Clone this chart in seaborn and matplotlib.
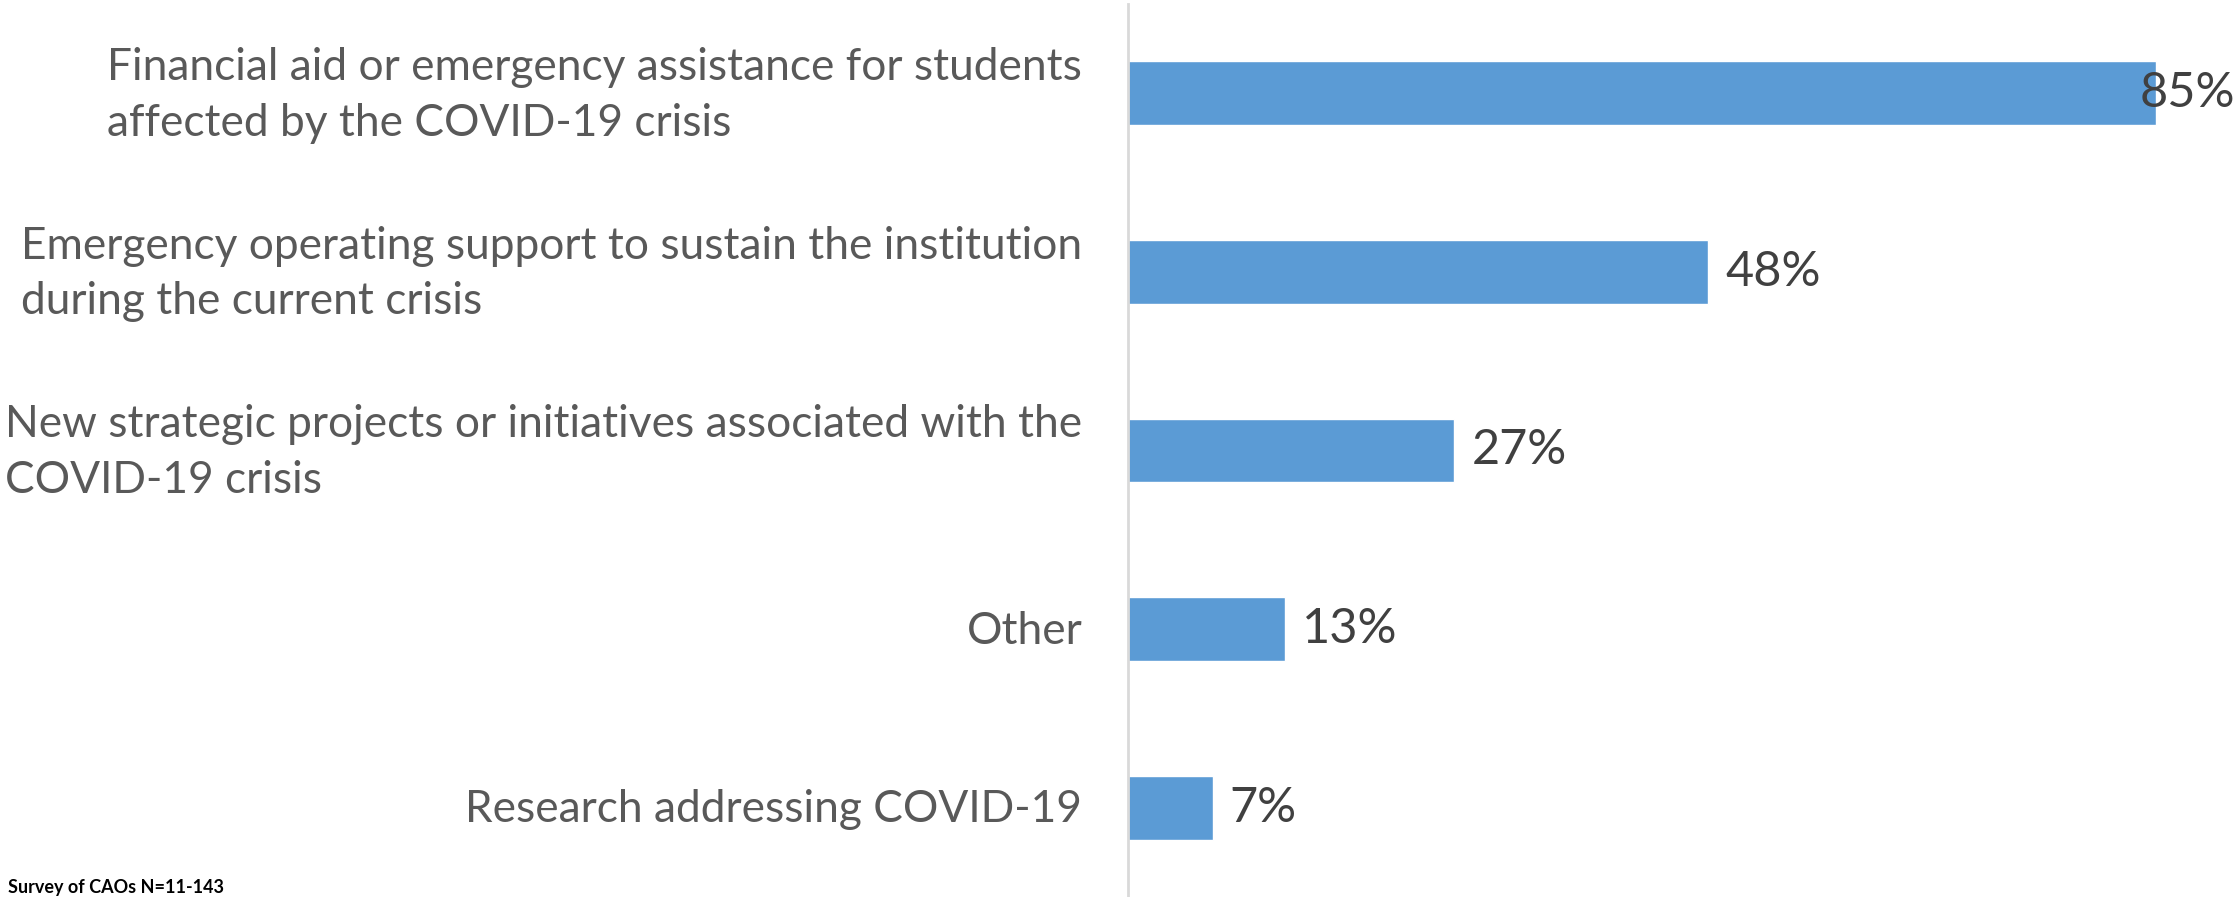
import matplotlib
matplotlib.use("Agg")
import matplotlib.pyplot as plt
import matplotlib.transforms as mtransforms
import seaborn as sns
import pandas as pd

# Survey responses: share of CAOs naming each use of relief funds
categories = [
    "Financial aid or emergency assistance for students\naffected by the COVID-19 crisis",
    "Emergency operating support to sustain the institution\nduring the current crisis",
    "New strategic projects or initiatives associated with the\nCOVID-19 crisis",
    "Other",
    "Research addressing COVID-19",
]
values = [85, 48, 27, 13, 7]
footnote = "Survey of CAOs N=11-143"

BAR_COLOR = "#5B9BD5"
CAT_COLOR = "#595959"
VAL_COLOR = "#404040"
AXIS_COLOR = "#D9D9D9"

sns.set_theme(style="white")
plt.rcParams["font.family"] = ["Lato", "DejaVu Sans"]

W, H, DPI = 2239, 897, 100
fig = plt.figure(figsize=(W / DPI, H / DPI), dpi=DPI)
ax = fig.add_axes([1128 / W, 0, 1 - 1128 / W, 1 - 4 / H])

df = pd.DataFrame({"category": categories, "value": values})
sns.barplot(data=df, y="category", x="value", orient="h", color=BAR_COLOR,
            saturation=1, width=0.358, ax=ax)

ax.set_xlim(0, 91.9)
ax.set_ylim(4.5, -0.5)
ax.set_xlabel("")
ax.set_ylabel("")
ax.set_xticks([])
ax.tick_params(axis="y", length=0)
ax.set_yticklabels([])

for side in ("top", "right", "bottom"):
    ax.spines[side].set_visible(False)
ax.spines["left"].set_color(AXIS_COLOR)
ax.spines["left"].set_linewidth(2)

# category labels: right-aligned block, left-aligned lines, left of the axis
ytrans = mtransforms.blended_transform_factory(ax.transAxes, ax.transData)
for i, cat in enumerate(categories):
    ax.annotate(cat, xy=(0, i), xycoords=ytrans,
                xytext=(-33, -1.5), textcoords="offset points",
                ha="right", va="center", multialignment="left",
                linespacing=1.45, fontsize=31.9, color=CAT_COLOR,
                annotation_clip=False)

# value labels to the right of each bar
texts = []
for i, v in enumerate(values):
    t = ax.text(v + 1.4, i, f"{v}%", va="center", ha="left",
                fontsize=35, color=VAL_COLOR)
    texts.append(t)

# keep labels inside the figure: pull any overflowing one back to the edge
fig.canvas.draw()
renderer = fig.canvas.get_renderer()
for t in texts:
    bb = t.get_window_extent(renderer)
    if bb.x1 > W - 4:
        t.set_ha("right")
        t.set_x(ax.get_xlim()[1] - 0.3)

fig.text(8 / W, 1 / H, footnote, ha="left", va="bottom",
         fontsize=13, fontweight="bold", color="#000000")

fig.savefig("out.png", dpi=DPI)
